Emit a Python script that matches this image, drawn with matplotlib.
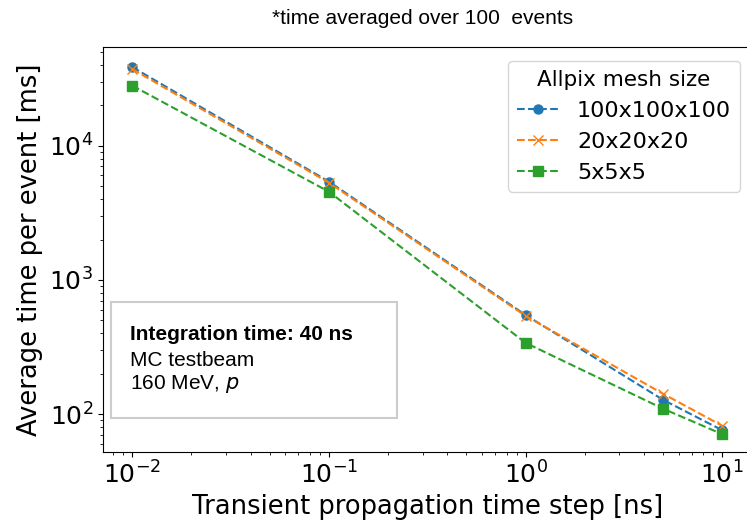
import matplotlib
matplotlib.use("Agg")
from matplotlib import pyplot as plt
from matplotlib.patches import Rectangle

# time step [ns] and mean processing time per event [ms]
time_steps = [0.01, 0.1, 1, 5, 10]
mesh_labels = ["100x100x100", "20x20x20", "5x5x5"]
t_mesh100 = [38500, 5400, 548, 128, 76]
t_mesh20 = [37200, 5300, 540, 142, 82]
t_mesh5 = [28000, 4540, 340, 110, 71]
markers = ["o", "x", "s"]

fig = plt.figure(figsize=(7.47, 5.23), dpi=100)
ax = fig.add_axes([0.1375, 0.1358, 0.8689, 0.7744])

for vals, lab, mk in zip([t_mesh100, t_mesh20, t_mesh5], mesh_labels, markers):
    ax.plot(time_steps, vals, linestyle="--", marker=mk, markersize=6.5, label=lab)

ax.set_xscale("log")
ax.set_yscale("log")
ax.set_xlim(10**-2.15, 10**1.15)
ax.set_ylim(10**1.719, 10**4.735)
ax.tick_params(labelsize=18)
ax.set_xlabel("Transient propagation time step [ns]", fontsize=18.5)
ax.set_ylabel("Average time per event [ms]", fontsize=18.5)

leg = ax.legend(title="Allpix mesh size", fontsize=16, title_fontsize=15.5,
                loc="upper right", bbox_to_anchor=(0.9906, 0.884),
                bbox_transform=fig.transFigure, borderaxespad=0,
                handlelength=1.9)

# info box
ax.add_patch(Rectangle((0.0128, 0.084), 0.4406, 0.286, transform=ax.transAxes,
                       facecolor="white", edgecolor="#cccccc", linewidth=1.5, zorder=3))
fam = ["Liberation Sans", "DejaVu Sans"]
ax.text(0.042, 0.29, "Integration time: 40 ns", transform=ax.transAxes, fontsize=15,
        fontweight="bold", family=fam, va="center", zorder=4)
ax.text(0.042, 0.225, "MC testbeam", transform=ax.transAxes, fontsize=15,
        family=fam, va="center", zorder=4)
ax.text(0.042, 0.168, "160 MeV, $p$", transform=ax.transAxes, fontsize=15,
        family=fam, va="center", zorder=4)

fig.text(0.5656, 0.965, "*time averaged over 100  events", ha="center", va="center",
         fontsize=15, family=fam)

fig.savefig("out.png", dpi=100)
